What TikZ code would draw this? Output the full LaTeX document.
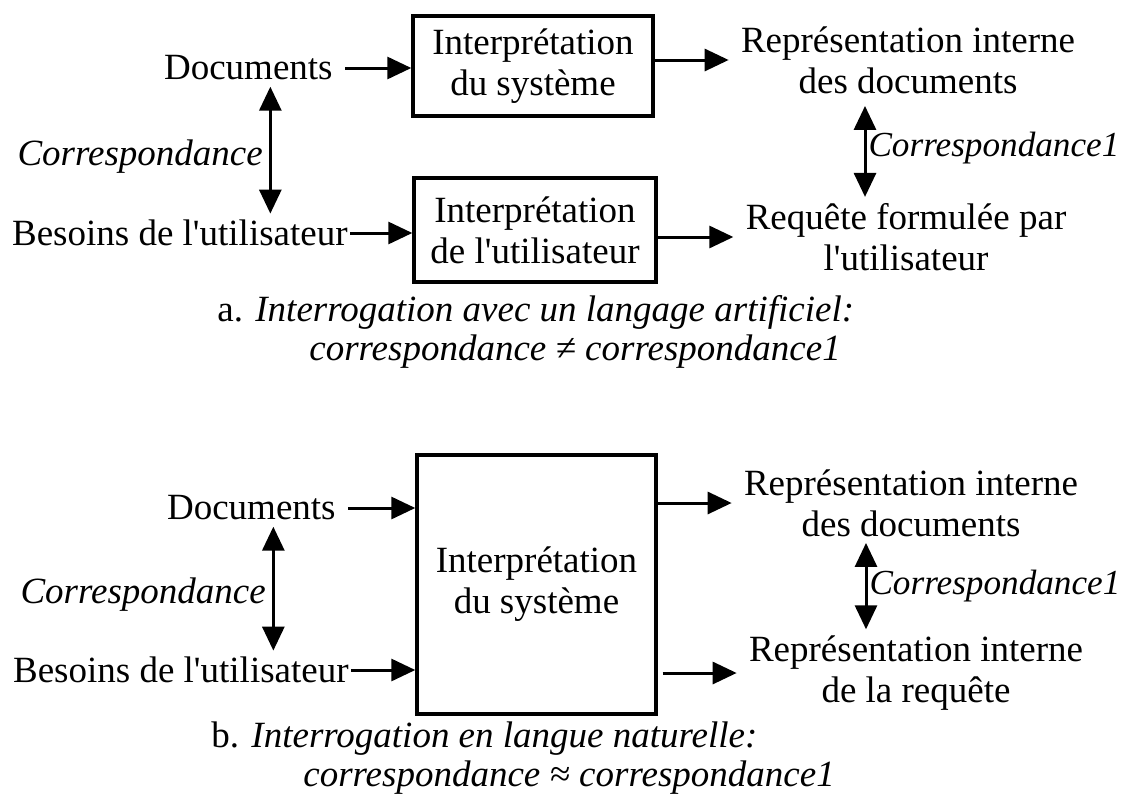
\documentclass[tikz,border=0pt]{standalone}
\usepackage{fontspec}
\setmainfont{Liberation Serif}
\usetikzlibrary{arrows.meta, positioning}
\newcommand{\apo}{\textquotesingle}
\tikzset{
  lbl/.style     = {align=center, inner xsep=6pt, inner ysep=3pt,
                    font=\fontsize{18.5}{20.5}\selectfont},
  corr/.style    = {lbl, font=\fontsize{18.5}{20.5}\selectfont\itshape},
  corrd/.style   = {lbl, font=\fontsize{17.6}{20.5}\selectfont\itshape},
  boite/.style   = {draw, line width=1.7pt, align=center, inner sep=3pt,
                    font=\fontsize{18.5}{20.5}\selectfont},
  legende/.style = {align=left, inner sep=0pt,
                    font=\fontsize{18.5}{19.5}\selectfont},
  flow/.style    = {-{Triangle[length=12pt, width=11pt]}, line width=1.5pt},
  bidir/.style   = {{Triangle[length=12pt, width=11pt]}-{Triangle[length=12pt, width=11pt]},
                    line width=1.5pt},
}

\begin{document}
\begin{tikzpicture}[x=0.5pt, y=-0.5pt]
  \useasboundingbox (0,0) rectangle (1129,798);

  %% ================ a. langage artificiel ================
  \node[boite, minimum width=120pt, minimum height=50pt] (sysA) at (533,66)
       {Interprétation\\du système};
  \node[boite, minimum width=121pt, minimum height=52pt] (userA) at (535,230)
       {Interprétation\\de l\apo utilisateur};

  \node[lbl, anchor=east] (docA) at (345,68) {Documents};
  \node[lbl, anchor=east, inner xsep=1pt] (besA) at (350,233) {Besoins de l\apo utilisateur};
  \node[lbl] (repA) at (908,60) {Représentation interne\\des documents};
  \node[lbl] (reqA) at (906,237) {Requête formulée par\\l\apo utilisateur};

  \draw[flow] (docA.east) -- (docA.east -| sysA.west);
  \draw[flow] (besA.east) -- (besA.east -| userA.west);
  \draw[flow] (sysA.east |- repA) -- (repA.west);
  \draw[flow] (userA.east |- reqA) -- (reqA.west);

  \draw[bidir] ([xshift=11pt]docA.south) -- ([xshift=11pt]docA.south |- besA.north)
       node[corr, pos=.55, left=-3pt] {Correspondance};
  \draw[bidir, shorten <=3pt] ([xshift=-21.5pt]repA.south) -- ([xshift=-21.5pt]repA.south |- reqA.north)
       node[corrd, midway, right=-5pt] {Correspondance1};

  \node[legende, anchor=west] (capA) at (217,332)
       {a. \textit{Interrogation avec un langage artificiel:}\\
        \hspace*{46pt}\textit{correspondance ≠ correspondance1}};

  %% ================ b. langue naturelle ================
  \node[boite, minimum width=119.5pt, minimum height=129.5pt] (sysB) at (536.5,584.5)
       {Interprétation\\du système};

  \node[lbl, anchor=east] (docB) at (348,508) {Documents};
  \node[lbl, anchor=east, inner xsep=1pt] (besB) at (351,670) {Besoins de l\apo utilisateur};
  \node[lbl] (repB) at (911,503) {Représentation interne\\des documents};
  \node[lbl] (reqB) at (916,673) {Représentation interne\\de la requête};

  \draw[flow] (docB.east) -- (docB.east -| sysB.west);
  \draw[flow] (besB.east) -- (besB.east -| sysB.west);
  \draw[flow] (sysB.east |- repB) -- (repB.west);
  \draw[flow, shorten <=2.5pt] (sysB.east |- reqB) -- (reqB.west);

  \draw[bidir] ([xshift=11pt]docB.south) -- ([xshift=11pt]docB.south |- besB.north)
       node[corr, pos=.55, left=-3pt] {Correspondance};
  \draw[bidir] ([xshift=-22.5pt]repB.south) -- ([xshift=-22.5pt]repB.south |- reqB.north)
       node[corrd, midway, right=-5pt] {Correspondance1};

  \node[legende, anchor=west] (capB) at (211,758)
       {b. \textit{Interrogation en langue naturelle:}\\
        \hspace*{46pt}\textit{correspondance ≈ correspondance1}};

\end{tikzpicture}
\end{document}
